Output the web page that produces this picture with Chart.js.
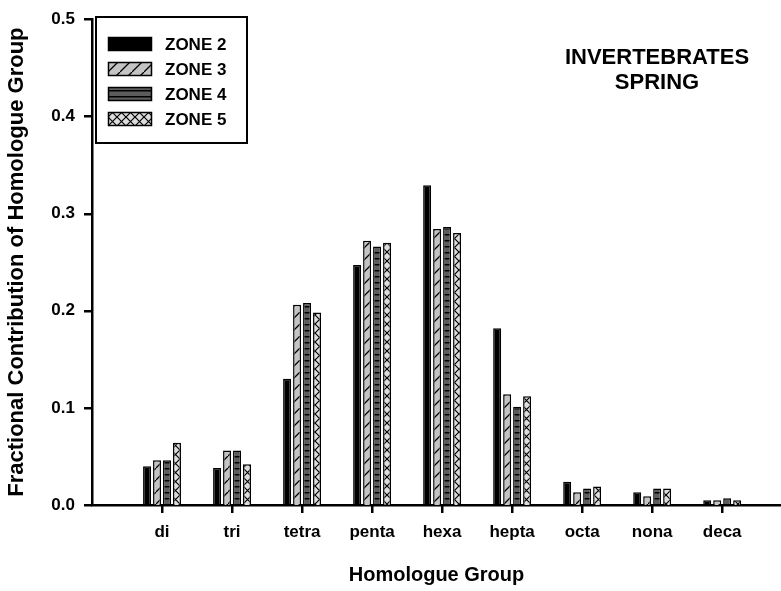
<!DOCTYPE html>
<html>
<head>
<meta charset="utf-8">
<script src="https://cdn.jsdelivr.net/npm/chart.js@4.4.0/dist/chart.umd.min.js"></script>
<style>
html,body{margin:0;padding:0;background:#fff}
#wrap{width:781px;height:591px;position:relative}
</style>
</head>
<body>
<div id="wrap"><canvas id="c" width="781" height="591"></canvas></div>
<script>
const groups=['di','tri','tetra','penta','hexa','hepta','octa','nona','deca'];
const zoneNames=['ZONE 2','ZONE 3','ZONE 4','ZONE 5'];
const zone2=[0.040,0.038,0.130,0.247,0.329,0.182,0.024,0.013,0.005];
const zone3=[0.046,0.056,0.206,0.272,0.284,0.114,0.013,0.009,0.005];
const zone4=[0.046,0.056,0.208,0.266,0.286,0.101,0.017,0.017,0.007];
const zone5=[0.064,0.042,0.198,0.270,0.280,0.112,0.019,0.017,0.005];
const yTicks=[0,0.1,0.2,0.3,0.4,0.5];
const titleLines=['INVERTEBRATES','SPRING'];

const FONT='"Liberation Sans", Arial, sans-serif';

function tile(w,h,draw){
  const cv=document.createElement('canvas');cv.width=w;cv.height=h;
  const g=cv.getContext('2d');draw(g,w,h);
  return document.getElementById('c').getContext('2d').createPattern(cv,'repeat');
}
// hatch fills
const fillSolid='#000';
const fillDiag=tile(12,12,(g,w,h)=>{
  g.fillStyle='#c4c4c4';g.fillRect(0,0,w,h);
  g.strokeStyle='#000';g.lineWidth=1.3;
  g.beginPath();g.moveTo(0,h);g.lineTo(w,0);g.moveTo(-w,h);g.lineTo(0,0);g.moveTo(w,2*h);g.lineTo(2*w,0);g.stroke();
});
const fillHoriz=tile(6,6,(g,w,h)=>{
  g.fillStyle='#5c5c5c';g.fillRect(0,0,w,h);
  g.fillStyle='#000';g.fillRect(0,0,w,1.5);
});
const fillCross=tile(9,9,(g,w,h)=>{
  g.fillStyle='#dcdcdc';g.fillRect(0,0,w,h);
  g.strokeStyle='#000';g.lineWidth=1.2;
  g.beginPath();g.moveTo(0,0);g.lineTo(w,h);g.moveTo(w,0);g.lineTo(0,h);g.stroke();
});
const fills=[fillSolid,fillDiag,fillHoriz,fillCross];
const series=[zone2,zone3,zone4,zone5];

const datasets=series.map((vals,i)=>({
  label:zoneNames[i],
  data:vals.map((v,k)=>({x:k,y:v})),
  backgroundColor:fills[i],
  borderColor:'#000',
  borderWidth:1.5,
  borderSkipped:'bottom',
  categoryPercentage:0.57,
  barPercentage:0.8
}));

// outward tick marks on both axes
function drawTickMarks(chart){
  const ctx=chart.ctx,xs=chart.scales.x,ys=chart.scales.y,a=chart.chartArea;
  ctx.save();
  ctx.fillStyle='#000';
  groups.forEach((g,i)=>{
    const px=Math.round(xs.getPixelForValue(i));
    ctx.fillRect(px-1,a.bottom,2.5,8);
  });
  yTicks.forEach(v=>{
    const py=Math.round(ys.getPixelForValue(v));
    ctx.fillRect(a.left-8,py-1,8,2.5);
  });
  ctx.restore();
}

const overlay={
  id:'overlay',
  afterDraw(chart){
    const ctx=chart.ctx;
    drawTickMarks(chart);
    // legend box
    ctx.save();
    ctx.lineWidth=2;ctx.strokeStyle='#000';ctx.fillStyle='#fff';
    ctx.fillRect(95,17,153,126);
    ctx.strokeRect(96,17,151,126);
    ctx.font='bold 17px '+FONT;ctx.textBaseline='middle';ctx.textAlign='left';
    zoneNames.forEach((n,i)=>{
      const y=37+i*25;
      ctx.fillStyle=fills[i];ctx.fillRect(108,y,44,14);
      ctx.lineWidth=1.5;ctx.strokeStyle='#000';ctx.strokeRect(108.5,y+0.5,43,13);
      ctx.fillStyle='#000';ctx.fillText(n,165,y+8);
    });
    // in-plot title
    ctx.font='bold 22px '+FONT;ctx.textAlign='center';
    titleLines.forEach((t,i)=>ctx.fillText(t,657,58+i*25));
    ctx.restore();
  }
};

new Chart(document.getElementById('c'),{
  type:'bar',
  data:{datasets},
  plugins:[overlay],
  options:{
    responsive:false,animation:false,
    layout:{padding:{top:17,left:0,right:0,bottom:0}},
    plugins:{legend:{display:false},tooltip:{enabled:false}},
    scales:{
      x:{
        type:'linear',min:-1,max:8.84,offset:false,
        afterBuildTicks(s){s.ticks=groups.map((g,i)=>({value:i}));},
        afterFit(s){s.height=86;},
        ticks:{callback:v=>groups[v]??'',color:'#000',font:{family:FONT,size:17,weight:'bold'},padding:9,maxRotation:0,autoSkip:false},
        grid:{display:false},
        border:{display:true,color:'#000',width:2.5},
        title:{display:true,text:'Homologue Group',color:'#000',font:{family:FONT,size:20,weight:'bold'},padding:{top:14}}
      },
      y:{
        min:0,max:0.5,
        afterBuildTicks(s){s.ticks=yTicks.map(v=>({value:v}));},
        afterFit(s){s.width=92;},
        ticks:{callback:v=>v.toFixed(1),color:'#000',font:{family:FONT,size:17,weight:'bold'},padding:9},
        grid:{display:false},
        border:{display:true,color:'#000',width:2.5},
        title:{display:true,text:'Fractional Contribution of Homologue Group',color:'#000',font:{family:FONT,size:22,weight:'bold'},padding:{top:4,bottom:2}}
      }
    }
  }
});
</script>
</body>
</html>
